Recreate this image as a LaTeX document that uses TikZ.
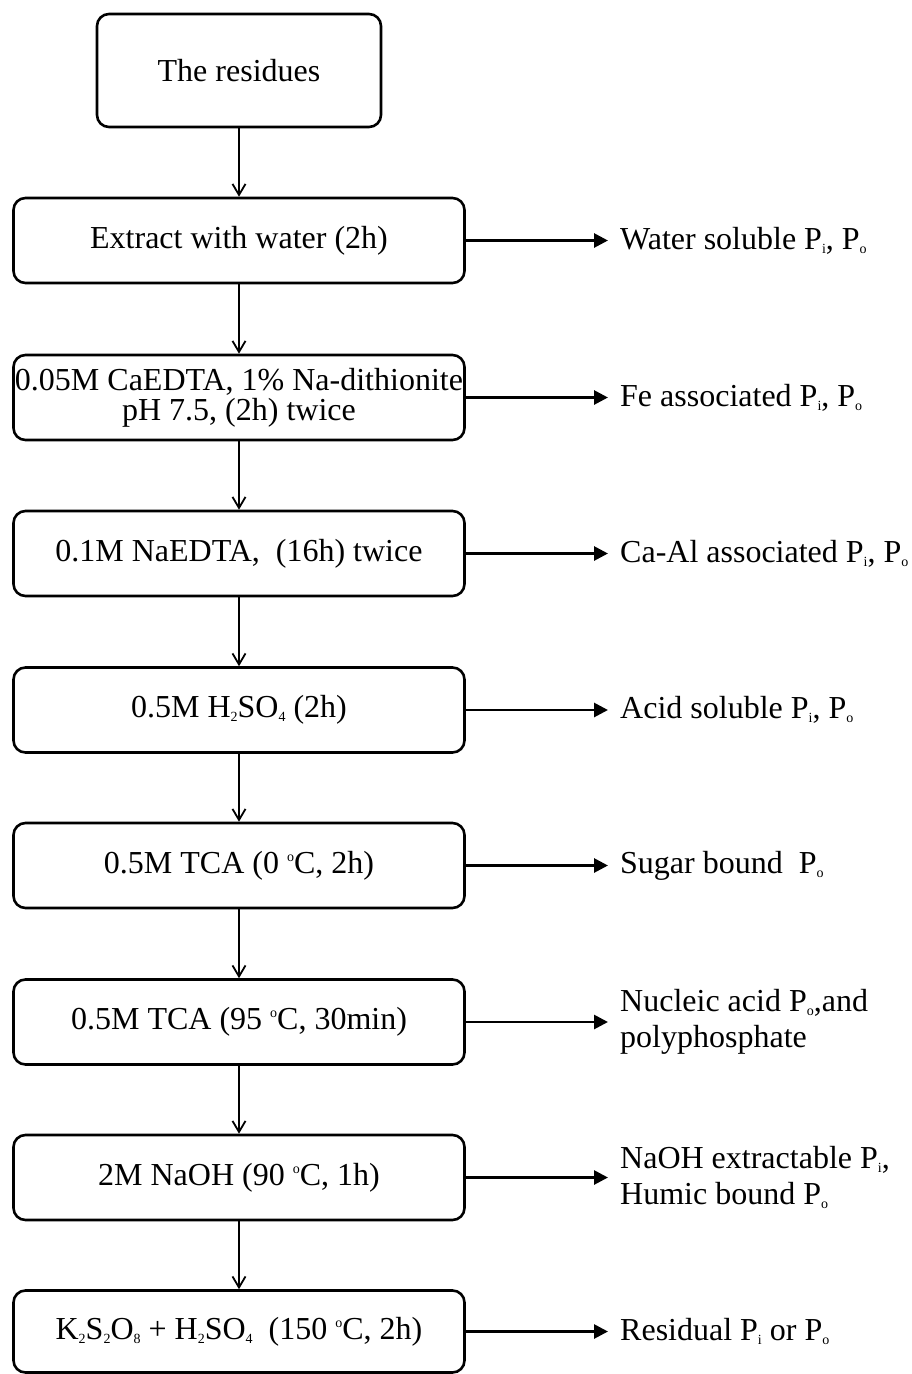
\documentclass[tikz,border=0pt]{standalone}
\usepackage{fontspec}
\setmainfont{Liberation Serif}
\usetikzlibrary{arrows.meta}
\newcommand{\lo}[1]{\raisebox{-4pt}{\fontsize{14}{14}\selectfont #1}}
\newcommand{\degsup}{\raisebox{12pt}{\fontsize{14}{14}\selectfont o}}
\begin{document}
\begin{tikzpicture}[x=1pt,y=-1pt,
  box/.style={draw, line width=2.6pt, rounded corners=12pt, minimum width=451pt, minimum height=85pt, align=center, inner sep=0pt, font=\fontsize{32}{30}\selectfont},
  lab/.style={anchor=west, align=left, inner sep=0pt, font=\fontsize{32}{36}\selectfont},
  down/.style={line width=1.8pt, -{Straight Barb[length=11pt,width=13pt,line width=1.8pt]}},
  side/.style={line width=2.8pt, shorten >=12pt, -{Triangle[length=14pt,width=14pt]}}]
\useasboundingbox (0,0) rectangle (912,1374);
\node[box, minimum width=284pt, minimum height=113pt] (n0) at (239,70.5) {The residues};
\node[box] (n1) at (239,240.5) {Extract with water (2h)};
\node[box] (n2) at (239,397.5) {0.05M CaEDTA, 1\% Na-dithionite\\pH 7.5, (2h) twice};
\node[box] (n3) at (239,553.5) {0.1M NaEDTA,\ \ (16h) twice};
\node[box] (n4) at (239,710) {0.5M H\lo{2}SO\lo{4} (2h)};
\node[box] (n5) at (239,865.5) {0.5M TCA (0 \degsup C, 2h)};
\node[box] (n6) at (239,1022) {0.5M TCA (95 \degsup C, 30min)};
\node[box] (n7) at (239,1177.5) {2M NaOH (90 \degsup C, 1h)};
\node[box, minimum height=82pt] (n8) at (239,1331.5) {K\lo{2}S\lo{2}O\lo{8} + H\lo{2}SO\lo{4}\ \ (150 \degsup C, 2h)};

\node[lab] (l1) at (620,240.5) {Water soluble P\lo{i}, P\lo{o}};
\node[lab] (l2) at (620,397.5) {Fe associated P\lo{i}, P\lo{o}};
\node[lab] (l3) at (620,553.5) {Ca-Al associated P\lo{i}, P\lo{o}};
\node[lab] (l4) at (620,710) {Acid soluble P\lo{i}, P\lo{o}};
\node[lab] (l5) at (620,865.5) {Sugar bound\ \ P\lo{o}};
\node[lab] (l6) at (620,1022) {Nucleic acid P\lo{o},and\\polyphosphate};
\node[lab] (l7) at (620,1177.5) {NaOH extractable P\lo{i},\\Humic bound P\lo{o}};
\node[lab] (l8) at (620,1331.5) {Residual P\lo{i} or P\lo{o}};

\foreach \a/\b in {n0/n1,n1/n2,n2/n3,n3/n4,n4/n5,n5/n6,n6/n7,n7/n8}
  \draw[down] (\a) -- (\b);
\foreach \i in {1,...,8}
  \draw[side] (n\i.east) -- (l\i.west);
\end{tikzpicture}
\end{document}
